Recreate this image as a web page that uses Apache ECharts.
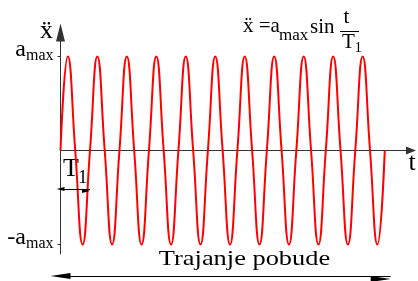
<!DOCTYPE html>
<html>
<head>
<meta charset="utf-8">
<script src="https://cdn.jsdelivr.net/npm/echarts@6/dist/echarts.min.js"></script>
<style>
  html, body { margin: 0; padding: 0; background: #fff; }
  #main { width: 418px; height: 281px; }
</style>
</head>
<body>
<div id="main"></div>
<script>
// time in units of T1, one reading per quarter period (zero, peak, zero, trough ...)
var tQuarter = [0, 0.25, 0.5, 0.75, 1, 1.25, 1.5, 1.75, 2, 2.25, 2.5, 2.75,
  3, 3.25, 3.5, 3.75, 4, 4.25, 4.5, 4.75, 5, 5.25, 5.5, 5.75,
  6, 6.25, 6.5, 6.75, 7, 7.25, 7.5, 7.75, 8, 8.25, 8.5, 8.75,
  9, 9.25, 9.5, 9.75, 10, 10.25, 10.5, 10.75, 11];
// acceleration in units of a_max
var accel = [0, 1, 0, -1, 0, 1, 0, -1, 0, 1, 0, -1,
  0, 1, 0, -1, 0, 1, 0, -1, 0, 1, 0, -1,
  0, 1, 0, -1, 0, 1, 0, -1, 0, 1, 0, -1,
  0, 1, 0, -1, 0, 1, 0, -1, 0];
var yTicks = [-1, 1];          // -a_max, a_max
var xRange = [0, 11.89];
var yRange = [-1.101, 1.255];
var periodArrow = [0, 1];      // one period T1
var periodLevel = -0.41;
var durationArrow = [0, 11.2]; // trajanje pobude

var chart = echarts.init(document.getElementById('main'));
var serif = 'Liberation Serif, DejaVu Serif, serif';
var axisColor = '#333';

// text placed by its baseline
function txt(str, x, base, size, align, scaleX) {
  return {
    type: 'text',
    x: x,
    y: base - size * 0.34,
    scaleX: scaleX || 1,
    silent: true,
    style: {
      text: str,
      font: size + 'px ' + serif,
      fill: '#000',
      textAlign: align || 'left',
      textVerticalAlign: 'middle',
      align: align || 'left',
      verticalAlign: 'middle'
    }
  };
}

var sineData = tQuarter.map(function (t, i) { return [t, accel[i]]; });

var option = {
  animation: false,
  textStyle: { fontFamily: serif },
  grid: [
    { left: 60.5, right: 7, top: 32.5, bottom: 27 },
    { left: 60.5, right: 7, top: 271, height: 16 }
  ],
  xAxis: [
    {
      type: 'value', min: xRange[0], max: xRange[1],
      axisLine: {
        onZero: true, symbol: ['none', 'triangle'], symbolSize: [8, 10],
        lineStyle: { color: axisColor, width: 1 }
      },
      axisTick: { show: false },
      axisLabel: { show: false },
      splitLine: { show: false }
    },
    { gridIndex: 1, type: 'value', min: xRange[0], max: xRange[1], show: false }
  ],
  yAxis: [
    {
      type: 'value', min: yRange[0], max: yRange[1],
      axisLine: {
        show: true, symbol: ['none', 'triangle'], symbolSize: [9, 18],
        lineStyle: { color: axisColor, width: 1 }
      },
      axisTick: { show: true, length: 3, customValues: yTicks, lineStyle: { color: axisColor } },
      axisLabel: {
        customValues: yTicks,
        margin: 7,
        fontFamily: serif,
        color: '#000',
        formatter: function (v) {
          return v > 0 ? '{a|a}{s|max}' : '{a|-a}{s|max}';
        },
        rich: {
          a: { fontFamily: serif, fontSize: 24, color: '#000', verticalAlign: 'bottom', padding: [0, 0, 13, 0] },
          s: { fontFamily: serif, fontSize: 16, color: '#000', verticalAlign: 'bottom', padding: [0, 0, 11, 0] }
        }
      },
      splitLine: { show: false }
    },
    { gridIndex: 1, type: 'value', min: 0, max: 2, show: false }
  ],
  series: [
    {
      type: 'line',
      data: sineData,
      smooth: 0.5,
      symbol: 'none',
      lineStyle: { color: '#ff0000', width: 2 },
      markLine: {
        silent: true,
        symbol: ['triangle', 'triangle'],
        symbolSize: [4, 8],
        symbolOffset: [0, '50%'],
        label: { show: false },
        lineStyle: { type: 'solid', color: '#000', width: 1 },
        data: [[{ coord: [periodArrow[0], periodLevel] }, { coord: [periodArrow[1], periodLevel] }]]
      }
    },
    {
      type: 'line',
      xAxisIndex: 1,
      yAxisIndex: 1,
      data: [[durationArrow[0], 1], [durationArrow[1], 1]],
      symbol: 'none',
      lineStyle: { opacity: 0 },
      markLine: {
        silent: true,
        symbol: ['triangle', 'triangle'],
        symbolSize: [6, 20],
        symbolOffset: [0, '50%'],
        label: { show: false },
        lineStyle: { type: 'solid', color: '#000', width: 1 },
        data: [[{ coord: [durationArrow[0], 1] }, { coord: [durationArrow[1], 1] }]]
      }
    }
  ],
  graphic: [
    txt('\u1E8D', 46.5, 40, 26, 'center'),
    txt('\u1E8D =a', 243, 33.5, 21),
    txt('max', 279, 41.5, 17),
    txt('sin', 310, 34.5, 21),
    txt('t', 346.5, 25, 21, 'center'),
    { type: 'line', silent: true, shape: { x1: 340, y1: 31.5, x2: 359, y2: 31.5 }, style: { stroke: '#000', lineWidth: 1 } },
    txt('T', 342, 50, 21),
    txt('1', 354.5, 53, 15),
    txt('T', 63, 178, 26),
    txt('1', 78, 184.5, 19),
    txt('t', 412, 172, 26, 'center'),
    txt('Trajanje pobude', 244.5, 267, 22, 'center', 1.2)
  ]
};

chart.setOption(option);
</script>
</body>
</html>
